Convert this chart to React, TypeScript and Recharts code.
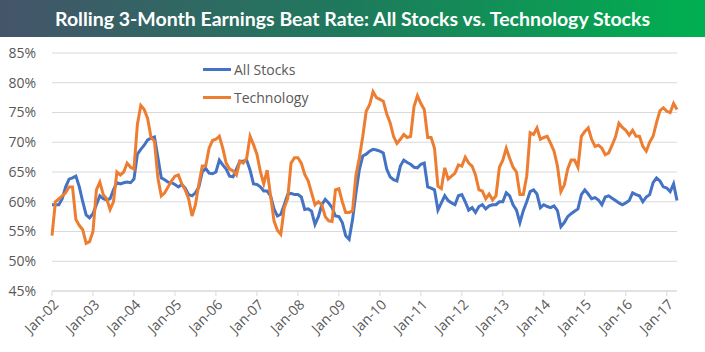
import React from 'react';
import { LineChart, Line, XAxis, YAxis, CartesianGrid, Legend } from 'recharts';

// monthly readings, Jan-02 .. Apr-17
const ALL_STOCKS = [
  59.5, 59.5, 59.5, 60.5, 62.5, 63.8, 64, 64.3, 62.5, 60, 57.8, 57.3,
  58, 59.5, 61, 60.5, 60.3, 60.5, 62, 63.2, 63, 63.2, 63.3, 63.2,
  63.8, 68, 68.8, 69.5, 70.4, 70.7, 70.9, 67.5, 64, 63.7, 63.3, 63.2,
  62.9, 62.5, 62.9, 62.3, 61.2, 61, 61.5, 62.5, 65, 65.6, 64.8, 64.7,
  65, 67, 66.2, 65.5, 64.3, 64.2, 65.5, 66.8, 66.8, 67, 65.3, 63,
  62.9, 62.5, 61.8, 61.8, 61, 58.8, 57.6, 57.9, 59.5, 61.2, 61.4, 61.2,
  61.2, 60.8, 58.7, 58.8, 58.4, 56.2, 57.5, 59.5, 60.4, 59.8, 59, 57.6,
  57.5, 56.5, 54.3, 53.7, 57, 61.5, 65.4, 67.7, 68, 68.5, 68.8, 68.7,
  68.5, 68.2, 65.5, 64.2, 63.7, 63.5, 66, 67, 66.6, 66.3, 65.8, 65.7,
  66.3, 66.5, 62.5, 62.3, 62, 58.6, 59.8, 61, 60.2, 59.8, 59.5, 61,
  61.2, 60, 58.6, 59, 58.2, 59.2, 59.5, 58.8, 59.3, 59.5, 59.5, 60,
  60, 61.5, 61, 59.5, 58.6, 56.5, 58.5, 60, 61.7, 62, 61.3, 59,
  59.5, 59.2, 59, 59.3, 58.5, 55.8, 56.5, 57.5, 58, 58.4, 58.8, 61.2,
  62, 61.3, 60.5, 60.7, 60.3, 59.5, 60.8, 61, 60.6, 60.2, 59.8, 59.5,
  59.8, 60.2, 61.5, 61.2, 61, 60, 60.8, 61.2, 63.2, 64, 63.5, 62.5,
  62.3, 61.7, 63, 60.2,
];

const TECHNOLOGY = [
  54.3, 60, 60.5, 61, 61.5, 62.5, 62.5, 57, 56, 55.3, 53, 53.3,
  55, 62, 63.3, 61.2, 60.5, 58.7, 60, 65, 64.5, 65, 66.5, 65.8,
  65.5, 73, 76.2, 75.5, 74, 70.8, 70.2, 64, 61, 61.5, 62.5, 63.5,
  64.3, 64.5, 63, 62, 60.5, 57.6, 59.5, 63, 66, 66, 69, 70.3,
  70.5, 71, 69, 66.5, 65.5, 65.2, 64.5, 66.8, 66.5, 67.3, 71, 69.6,
  68, 65.1, 63, 65.3, 61, 56.8, 55.2, 54.5, 59, 60.5, 66.5, 67.4,
  67.4, 66.5, 64.6, 63.5, 61.5, 59.5, 60, 59.5, 57.5, 56.8, 56.7, 62,
  62.2, 60, 58.2, 58.2, 58.5, 64.5, 67.4, 71, 75.2, 76.3, 78.5, 77.5,
  77.2, 76.9, 74.8, 73.3, 71, 69.8, 70.5, 71.3, 70.8, 71, 76, 77.8,
  76.5, 75.5, 70.8, 70.8, 69, 62.6, 62.2, 65.7, 63.8, 64.3, 64.8, 66.2,
  66, 67.5, 66.5, 66, 64.5, 62, 61.8, 60.5, 61.3, 60.3, 61, 65.8,
  67, 69, 67.3, 65.8, 65, 61.2, 61.2, 64.3, 71.6, 71.3, 72.4, 70.5,
  70.8, 71, 69.8, 68.5, 66, 61.7, 62.8, 65.5, 67, 67, 65.8, 71,
  71.8, 72.4, 70.5, 69.3, 69.5, 69, 67.9, 68.2, 69.5, 70.9, 73.2, 72.5,
  72, 71.2, 72, 71, 71, 69.3, 68.5, 70, 71, 73.3, 75.3, 75.8,
  75.2, 75, 76.5, 75.5,
];

const YEAR_LABELS = [
  'Jan-02', 'Jan-03', 'Jan-04', 'Jan-05', 'Jan-06', 'Jan-07', 'Jan-08', 'Jan-09',
  'Jan-10', 'Jan-11', 'Jan-12', 'Jan-13', 'Jan-14', 'Jan-15', 'Jan-16', 'Jan-17',
];

const Y_TICKS = [45, 50, 55, 60, 65, 70, 75, 80, 85];

const SERIES = [
  { key: 'all', name: 'All Stocks', color: '#4472C4' },
  { key: 'tech', name: 'Technology', color: '#ED7D31' },
];

const data = ALL_STOCKS.map((v, i) => ({ m: i, all: v, tech: TECHNOLOGY[i] }));
const xTicks = YEAR_LABELS.map((_, i) => i * 12);

const FONT = "'Open Sans', sans-serif";

const XTick = ({ x, y, payload }: any) => {
  const label = YEAR_LABELS[Math.round(payload.value / 12)];
  const tx = x + 4;
  const ty = y + 4;
  return (
    <text
      x={tx}
      y={ty}
      dy="0.35em"
      transform={`rotate(-45, ${tx}, ${ty})`}
      textAnchor="end"
      fill="#595959"
      fontSize={14}
      fontFamily={FONT}
    >
      {label}
    </text>
  );
};

const renderLegend = () => (
  <div style={{ fontFamily: FONT, fontSize: 14, color: '#595959' }}>
    {SERIES.map((s) => (
      <div key={s.key} style={{ display: 'flex', alignItems: 'center', height: 28 }}>
        <div style={{ width: 28, height: 3, background: s.color, marginRight: 3 }} />
        <span>{s.name}</span>
      </div>
    ))}
  </div>
);

export default function App() {
  return (
    <div style={{ position: 'absolute', left: 0, top: 0, width: 705, height: 352, background: '#fff' }}>
      <LineChart
        width={705}
        height={352}
        data={data}
        margin={{ top: 53, right: 28, left: 0, bottom: 0 }}
      >
        <CartesianGrid vertical={false} stroke="#D9D9D9" />
        <XAxis
          dataKey="m"
          type="number"
          domain={[0, 183]}
          ticks={xTicks}
          interval={0}
          height={61}
          stroke="#D9D9D9"
          tickSize={5}
          tick={<XTick />}
        />
        <YAxis
          domain={[45, 85]}
          ticks={Y_TICKS}
          width={52}
          axisLine={false}
          tickLine={false}
          tickMargin={10}
          tickFormatter={(v: number) => `${v}%`}
          tick={{ fill: '#595959', fontSize: 14, fontFamily: FONT }}
        />
        <Legend
          layout="vertical"
          align="center"
          verticalAlign="middle"
          wrapperStyle={{ left: 203, top: 55, width: 'auto' }}
          content={renderLegend}
        />
        {SERIES.map((s) => (
          <Line
            key={s.key}
            type="linear"
            dataKey={s.key}
            name={s.name}
            stroke={s.color}
            strokeWidth={3}
            dot={false}
            isAnimationActive={false}
          />
        ))}
      </LineChart>
      <div
        style={{
          position: 'absolute',
          left: 0,
          top: 0,
          width: 705,
          height: 37,
          background: 'linear-gradient(to right, #44546A, #1E7A5C 50%, #00B050)',
          color: '#fff',
          fontFamily: "Lato, sans-serif",
          fontWeight: 'bold',
          fontSize: 19.5,
          lineHeight: '37px',
          textAlign: 'center',
        }}
      >
        Rolling 3-Month Earnings Beat Rate: All Stocks vs. Technology Stocks
      </div>
    </div>
  );
}
